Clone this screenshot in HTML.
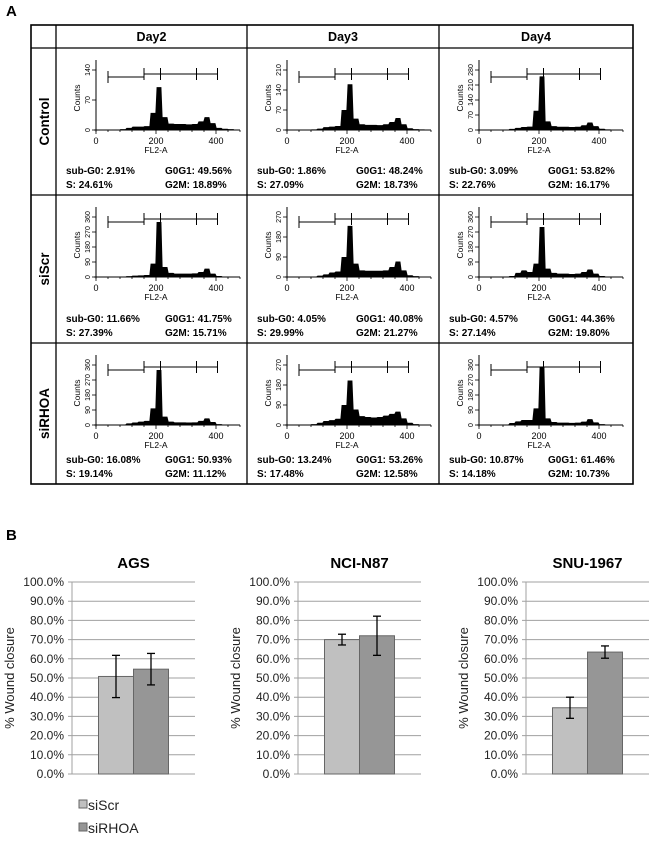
<!DOCTYPE html>
<html><head><meta charset="utf-8">
<style>
html,body{margin:0;padding:0;background:#fff;}
body{width:650px;height:845px;position:relative;overflow:hidden;font-family:"Liberation Sans",sans-serif;}
svg{position:absolute;left:0;top:0;}
</style></head>
<body>
<svg id="fig" width="650" height="845" viewBox="0 0 650 845" font-family="Liberation Sans, sans-serif"></svg>
<script>
// ---------- Panel A data ----------
const days = ["Day2","Day3","Day4"];
const conditions = ["Control","siScr","siRHOA"];
const yTickLabels = [
  [[0,70,140],[0,70,140,210],[0,70,140,210,280]],
  [[0,90,180,270,360],[0,90,180,270],[0,90,180,270,360]],
  [[0,90,180,270,360],[0,90,180,270],[0,90,180,270,360]]
];
const xTicks = [0,200,400];
// histogram counts per 20-unit bin (0..480)
const histCounts = [
  [
    [1,1,1,1,2,5,8,8,9,40,100,30,15,14,14,13,14,20,30,16,5,3,2,1],
    [1,1,1,1,2,5,10,12,14,70,160,40,20,18,18,17,20,28,42,20,6,3,2,1],
    [1,1,1,1,2,5,10,14,16,90,250,40,18,15,15,14,15,22,35,18,6,3,2,1]
  ],
  [
    [1,1,1,1,2,5,8,10,12,80,330,60,25,20,20,20,22,30,50,20,6,3,2,1],
    [1,1,1,1,2,6,12,20,25,90,230,60,30,28,28,28,30,45,70,30,8,4,2,1],
    [1,1,1,1,2,6,25,40,30,80,300,50,25,20,20,18,20,30,45,20,6,3,2,1]
  ],
  [
    [1,1,1,1,3,10,15,20,25,100,330,50,20,16,16,15,16,25,40,18,5,3,2,1],
    [1,1,1,2,4,10,18,22,28,90,200,70,40,36,34,36,42,50,60,30,10,4,2,1],
    [1,1,1,1,3,12,22,30,30,100,350,40,18,14,14,13,14,20,35,16,5,3,2,1]
  ]
];
const gates = [40,160,215,335,405];
const statsSubG0 = [["2.91%","1.86%","3.09%"],["11.66%","4.05%","4.57%"],["16.08%","13.24%","10.87%"]];
const statsG0G1 = [["49.56%","48.24%","53.82%"],["41.75%","40.08%","44.36%"],["50.93%","53.26%","61.46%"]];
const statsS    = [["24.61%","27.09%","22.76%"],["27.39%","29.99%","27.14%"],["19.14%","17.48%","14.18%"]];
const statsG2M  = [["18.89%","18.73%","16.17%"],["15.71%","21.27%","19.80%"],["11.12%","12.58%","10.73%"]];

// ---------- Panel B data ----------
const cellLines = ["AGS","NCI-N87","SNU-1967"];
const seriesNames = ["siScr","siRHOA"];
const siScrValues = [50.8,70.0,34.5];
const siRHOAValues = [54.6,72.0,63.5];
const siScrErr = [11.0,2.8,5.5];
const siRHOAErr = [8.2,10.2,3.2];
const yPctTicks = [0,10,20,30,40,50,60,70,80,90,100];

const NS="http://www.w3.org/2000/svg";
const svg=document.getElementById('fig');
function mk(tag,attrs,parent,text){const e=document.createElementNS(NS,tag);for(const k in attrs)e.setAttribute(k,attrs[k]);if(text!==undefined)e.textContent=text;(parent||svg).appendChild(e);return e;}

let t=mk('text',{x:6,y:16,'font-size':15,'font-weight':'bold'},svg,'A');


t=mk('text',{x:6,y:540,'font-size':15,'font-weight':'bold'},svg,'B');



const colX=[31,56,247,439,633];
const rowY=[25,48,195,343,484];
let g=mk('g',{stroke:'#000','stroke-width':1.3,fill:'none'});


mk('rect',{x:colX[0],y:rowY[0],width:colX[4]-colX[0],height:rowY[4]-rowY[0],'stroke-width':1.6},g);
for(let i=1;i<4;i++)mk('line',{x1:colX[i],y1:rowY[0],x2:colX[i],y2:rowY[4]},g);
for(let j=1;j<4;j++)mk('line',{x1:colX[0],y1:rowY[j],x2:colX[4],y2:rowY[j]},g);

days.forEach((d,i)=>{
  const e=mk('text',{x:(colX[i+1]+colX[i+2])/2,y:41,'font-size':12.5,'font-weight':'bold','text-anchor':'middle'},svg,d);
  
  
});
conditions.forEach((c,j)=>{
  const cy=(rowY[j+1]+rowY[j+2])/2;
  const e=mk('text',{x:0,y:0,'font-size':13.5,'font-weight':'bold','text-anchor':'middle',transform:`translate(49,${cy}) rotate(-90)`},svg,c);
  
  
});

for(let r=0;r<3;r++){for(let c=0;c<3;c++){
  const cx=colX[c+1], cy=rowY[r+1];
  const ax=cx+40, ay=cy+82, pw=144, top=cy+12;
  const ticks=yTickLabels[r][c]; const ymax=ticks[ticks.length-1];
  const tickTopY=cy+22;
  const ys=v=>ay-(v/ymax)*(ay-tickTopY);
  const xs=v=>ax+v/480*pw;
  const hg=mk('g',{});
  
  
  const counts=histCounts[r][c];
  let d=`M${xs(0)},${ay}`;
  counts.forEach((v,k)=>{const vv=Math.min(v,ymax*1.05);d+=` L${xs(k*20+2)},${ys(vv)} L${xs(k*20+18)},${ys(vv)}`;});
  d+=` L${xs(480)},${ay} Z`;
  const p=mk('path',{d:d,fill:'#000'},hg);
  
  
  mk('line',{x1:ax,y1:top,x2:ax,y2:ay+2,stroke:'#000','stroke-width':1},hg);
  mk('line',{x1:ax-2,y1:ay,x2:ax+pw,y2:ay,stroke:'#000','stroke-width':1},hg);
  for(let v=0;v<=480;v+=40)mk('line',{x1:xs(v),y1:ay,x2:xs(v),y2:ay+(v%200===0?4:2),stroke:'#000','stroke-width':0.8},hg);
  ticks.forEach(v=>{
    mk('line',{x1:ax-4,y1:ys(v),x2:ax,y2:ys(v),stroke:'#000','stroke-width':0.8},hg);
    mk('text',{x:0,y:0,'font-size':7,'text-anchor':'middle',transform:`translate(${ax-6},${ys(v)}) rotate(-90)`},hg,String(v));
  });
  xTicks.forEach(v=>mk('text',{x:xs(v),y:ay+14,'font-size':9,'text-anchor':'middle'},hg,String(v)));
  mk('text',{x:xs(200),y:ay+23,'font-size':8.5,'text-anchor':'middle'},hg,'FL2-A');
  mk('text',{x:0,y:0,'font-size':8.5,'text-anchor':'middle',transform:`translate(${ax-16},${(top+ay)/2+3}) rotate(-90)`},hg,'Counts');
  const gy=cy+29-(r===0?0:2);
  mk('line',{x1:xs(gates[0]),y1:gy,x2:xs(gates[1]),y2:gy,stroke:'#000'},hg);
  mk('line',{x1:xs(gates[1]),y1:gy-3,x2:xs(gates[4]),y2:gy-3,stroke:'#000'},hg);
  gates.forEach((gv,k)=>{const yy=k===0?gy:gy-3;mk('line',{x1:xs(gv),y1:yy-6,x2:xs(gv),y2:yy+6,stroke:'#000'},hg);});
  const sx=cx+10, sx2=cx+109, sy=rowY[r+2]-21;
  const st=mk('g',{'font-size':10,'font-weight':'bold'},svg);
  
  
  mk('text',{x:sx,y:sy},st,'sub-G0: '+statsSubG0[r][c]);
  mk('text',{x:sx2,y:sy},st,'G0G1: '+statsG0G1[r][c]);
  mk('text',{x:sx,y:sy+14},st,'S: '+statsS[r][c]);
  mk('text',{x:sx2,y:sy+14},st,'G2M: '+statsG2M[r][c]);
}}

const chartAxisX=[72,298,526];
const plotW=123, yTop=582, yBot=774;
const yScale=v=>yBot-(v/100)*(yBot-yTop);
cellLines.forEach((name,i)=>{
  const x0=chartAxisX[i];
  const cg=mk('g',{});
  
  
  const tt=mk('text',{x:x0+plotW/2,y:568,'font-size':15,'font-weight':'bold','text-anchor':'middle'},cg,name);
  
  
  yPctTicks.forEach(v=>{
    mk('line',{x1:x0-4,y1:yScale(v),x2:x0+plotW,y2:yScale(v),stroke:'#a0a0a0','stroke-width':1},cg);
    mk('text',{x:x0-8,y:yScale(v)+4,'font-size':12,'text-anchor':'end',fill:'#222'},cg,v.toFixed(1)+'%');
  });
  mk('line',{x1:x0,y1:yTop,x2:x0,y2:yBot,stroke:'#a0a0a0','stroke-width':1},cg);
  const yl=mk('text',{x:0,y:0,'font-size':13,'text-anchor':'middle',fill:'#222',transform:`translate(${x0-58},${(yTop+yBot)/2}) rotate(-90)`},cg,'% Wound closure');
  
  
  const bw=35, cxm=x0+plotW/2;
  [[siScrValues,siScrErr,'#c0c0c0',cxm-bw],[siRHOAValues,siRHOAErr,'#969696',cxm]].forEach(([vals,errs,col,bx],s)=>{
    const v=vals[i], e=errs[i];
    const b=mk('rect',{x:bx,y:yScale(v),width:bw,height:yBot-yScale(v),fill:col,stroke:'#666','stroke-width':1},cg);
    
    
    const mx=bx+bw/2;
    const eb=mk('g',{stroke:'#000','stroke-width':1.3},cg);
    
    
    mk('line',{x1:mx,y1:yScale(v+e),x2:mx,y2:yScale(v-e)},eb);
    mk('line',{x1:mx-4,y1:yScale(v+e),x2:mx+4,y2:yScale(v+e)},eb);
    mk('line',{x1:mx-4,y1:yScale(v-e),x2:mx+4,y2:yScale(v-e)},eb);
  });
});
[['#c0c0c0',810],['#969696',833]].forEach(([col,y],s)=>{
  const lg=mk('g',{});
  
  
  mk('rect',{x:79,y:y-10,width:8,height:8,fill:col,stroke:'#666'},lg);
  mk('text',{x:88,y:y,'font-size':14,fill:'#222'},lg,seriesNames[s]);
});
</script>
</body></html>
